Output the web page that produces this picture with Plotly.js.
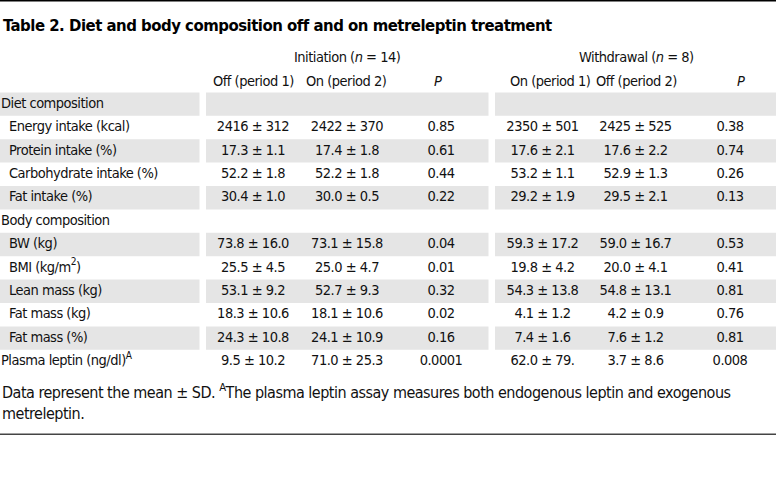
<!DOCTYPE html>
<html>
<head>
<meta charset="utf-8">
<script src="https://cdn.plot.ly/plotly-3.0.1.min.js"></script>
<style>
html,body{margin:0;padding:0;background:#fff;}
#chart{width:776px;height:494px;}
svg text{letter-spacing:-0.5px;}
</style>
</head>
<body>
<div id="chart"></div>
<script>
// ---------- data ----------
const tableTitle = "Table 2. Diet and body composition off and on metreleptin treatment";
const groupHeaders = ["Initiation (<i>n</i> = 14)", "Withdrawal (<i>n</i> = 8)"];
const columnHeaders = ["Off (period 1)", "On (period 2)", "<i>P</i>", "On (period 1)", "Off (period 2)", "<i>P</i>"];
const rowLabels = [
  "Diet composition", "Energy intake (kcal)", "Protein intake (%)", "Carbohydrate intake (%)", "Fat intake (%)",
  "Body composition", "BW (kg)", "BMI (kg/m<sup>2</sup>)", "Lean mass (kg)", "Fat mass (kg)", "Fat mass (%)",
  "Plasma leptin (ng/dl)<sup>A</sup>"
];
const rowLevel = [0, 1, 1, 1, 1, 0, 1, 1, 1, 1, 1, 0];
const initiationOff = ["", "2416 ± 312", "17.3 ± 1.1", "52.2 ± 1.8", "30.4 ± 1.0", "", "73.8 ± 16.0", "25.5 ± 4.5", "53.1 ± 9.2", "18.3 ± 10.6", "24.3 ± 10.8", "9.5 ± 10.2"];
const initiationOn = ["", "2422 ± 370", "17.4 ± 1.8", "52.2 ± 1.8", "30.0 ± 0.5", "", "73.1 ± 15.8", "25.0 ± 4.7", "52.7 ± 9.3", "18.1 ± 10.6", "24.1 ± 10.9", "71.0 ± 25.3"];
const initiationP = ["", "0.85", "0.61", "0.44", "0.22", "", "0.04", "0.01", "0.32", "0.02", "0.16", "0.0001"];
const withdrawalOn = ["", "2350 ± 501", "17.6 ± 2.1", "53.2 ± 1.1", "29.2 ± 1.9", "", "59.3 ± 17.2", "19.8 ± 4.2", "54.3 ± 13.8", "4.1 ± 1.2", "7.4 ± 1.6", "62.0 ± 79."];
const withdrawalOff = ["", "2425 ± 525", "17.6 ± 2.2", "52.9 ± 1.3", "29.5 ± 2.1", "", "59.0 ± 16.7", "20.0 ± 4.1", "54.8 ± 13.1", "4.2 ± 0.9", "7.6 ± 1.2", "3.7 ± 8.6"];
const withdrawalP = ["", "0.38", "0.74", "0.26", "0.13", "", "0.53", "0.41", "0.81", "0.76", "0.81", "0.008"];
const footnoteLines = [
  "Data represent the mean ± SD. <sup>A</sup>The plasma leptin assay measures both endogenous leptin and exogenous",
  "metreleptin."
];

// ---------- layout constants (styles/positions) ----------
const W = 776, H = 494;
const FONT = "'DejaVu Sans Condensed', 'DejaVu Sans', sans-serif";
const TXT = "#111111";
const GRAY = "#e5e5e5";
const rowTop = 92.4, rowH = 23.4;
const segments = [[0, 199.5], [206, 488.5], [495, 776]];
const colCenters = [253, 347, 441, 542.5, 635.5, 730];
const headerCenters = [253, 346, 438, 550, 636, 741];
const groupCenters = [347, 636];
const labelX = [1, 9];
const FS = 14.5;

function pxToRow(p) { return (p - rowTop) / rowH - 0.5; }
function pxToPaper(p) { return 1 - p / H; }

const columns = [initiationOff, initiationOn, initiationP, withdrawalOn, withdrawalOff, withdrawalP];
const rowIdx = rowLabels.map((_, i) => i);

const traces = [];
traces.push({
  type: "scatter", mode: "text",
  x: rowLevel.map(l => labelX[l]), y: rowIdx,
  text: rowLabels, textposition: "middle right",
  marker: {size: 0},
  textfont: {family: FONT, size: FS, color: TXT},
  hoverinfo: "skip", showlegend: false
});
columns.forEach((col, c) => {
  const keep = rowIdx.filter(i => col[i] !== "");
  traces.push({
    type: "scatter", mode: "text",
    x: keep.map(() => colCenters[c]), y: keep,
    text: keep.map(i => col[i]), textposition: "middle center",
    textfont: {family: FONT, size: FS, color: TXT},
    hoverinfo: "skip", showlegend: false
  });
});

const shapes = [];
rowIdx.forEach(i => {
  if (i % 2 === 0) {
    segments.forEach(s => shapes.push({
      type: "rect", xref: "x", yref: "y", x0: s[0], x1: s[1], y0: i - 0.5, y1: i + 0.5,
      fillcolor: GRAY, line: {width: 0}, layer: "below"
    }));
  }
});
shapes.push({type: "line", xref: "x", yref: "paper", x0: 0, x1: W, y0: pxToPaper(0.7), y1: pxToPaper(0.7), line: {color: "#000", width: 1.6}});
shapes.push({type: "line", xref: "x", yref: "paper", x0: 0, x1: W, y0: pxToPaper(434.3), y1: pxToPaper(434.3), line: {color: "#444", width: 1.4}});

const annotations = [];
annotations.push({xref: "x", yref: "paper", x: 1, y: pxToPaper(26), xanchor: "left", yanchor: "middle", showarrow: false,
  text: "<b>" + tableTitle + "</b>", font: {family: FONT, size: 16.6, color: "#000"}});
groupHeaders.forEach((g, k) => annotations.push({xref: "x", yref: "paper", x: groupCenters[k], y: pxToPaper(57), xanchor: "center", yanchor: "middle", showarrow: false,
  text: g, font: {family: FONT, size: FS, color: TXT}}));
columnHeaders.forEach((h, k) => annotations.push({xref: "x", yref: "paper", x: headerCenters[k], y: pxToPaper(81), xanchor: "center", yanchor: "middle", showarrow: false,
  text: h, font: {family: FONT, size: FS, color: TXT}}));
const footY = [391, 413];
footnoteLines.forEach((t, k) => annotations.push({xref: "x", yref: "paper", x: 0, y: pxToPaper(footY[k]), xanchor: "left", yanchor: "middle", showarrow: false,
  text: t, font: {family: FONT, size: 16, color: TXT}}));

const layout = {
  width: W, height: H,
  margin: {l: 0, r: 0, t: 0, b: 0, pad: 0},
  paper_bgcolor: "#fff", plot_bgcolor: "#fff",
  xaxis: {range: [0, W], visible: false, fixedrange: true},
  yaxis: {range: [pxToRow(H), pxToRow(0)], visible: false, fixedrange: true},
  shapes: shapes, annotations: annotations, showlegend: false
};
Plotly.newPlot("chart", traces, layout, {displayModeBar: false, staticPlot: true});
</script>
</body>
</html>
